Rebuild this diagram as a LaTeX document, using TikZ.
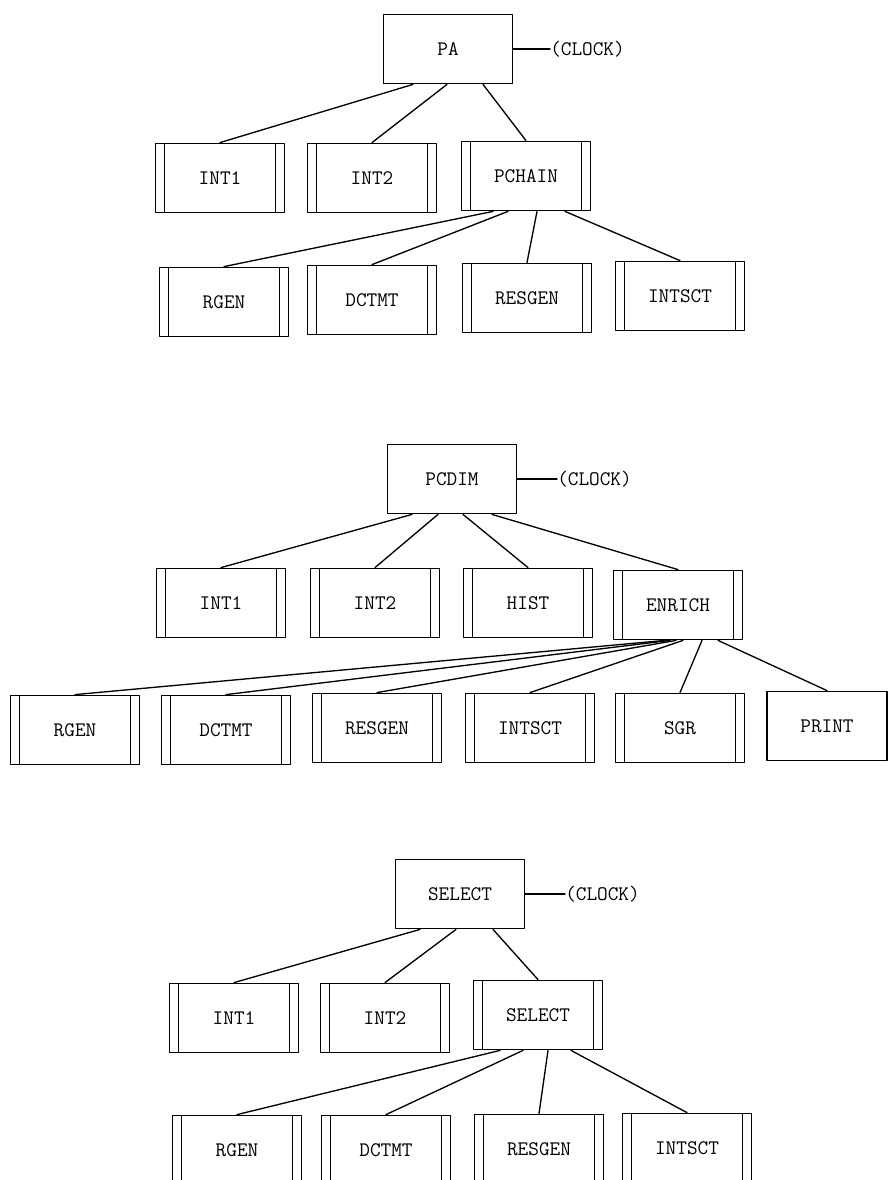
\documentclass[tikz,border=0pt]{standalone}
\usetikzlibrary{calc}
\begin{document}
\begin{tikzpicture}[x=0.75pt,y=-0.75pt,line cap=round,line join=round,
  font=\fontsize{15.5}{18}\selectfont\ttfamily,
  box/.style={draw,line width=1.1pt,minimum width=97pt,minimum height=52pt,inner sep=0pt},
  modbox/.style={box,path picture={
    \draw[line width=1pt]
      ([xshift=7pt]path picture bounding box.north west) -- ([xshift=7pt]path picture bounding box.south west)
      ([xshift=-7pt]path picture bounding box.north east) -- ([xshift=-7pt]path picture bounding box.south east);}},
  clock/.style={anchor=west,inner sep=0pt},
  wire/.style={line width=1pt}]
  \useasboundingbox (0,0) rectangle (888,1180);
  % first tree
  \node[box] (pa) at (448,49) {PA};
  \node[clock] (clka) at (550,49) {(CLOCK)};
  \draw[wire] (pa.east) -- (clka.west);
  \node[modbox] (int1a) at (220,178) {INT1};
  \node[modbox] (int2a) at (372,178) {INT2};
  \node[modbox] (pchain) at (526,176) {PCHAIN};
  \node[modbox] (rgena) at (224,302) {RGEN};
  \node[modbox] (dctmta) at (372,300) {DCTMT};
  \node[modbox] (resgena) at (527,298) {RESGEN};
  \node[modbox] (intscta) at (680,296) {INTSCT};
  \draw[wire] ($(pa.south)+(-35,0)$) -- (int1a.north);
  \draw[wire] ($(pa.south)+(-1,0)$) -- (int2a.north);
  \draw[wire] ($(pa.south)+(35,0)$) -- (pchain.north);
  \draw[wire] ($(pchain.south)+(-33,0)$) -- (rgena.north);
  \draw[wire] ($(pchain.south)+(-18,0)$) -- (dctmta.north);
  \draw[wire] ($(pchain.south)+(11,0)$) -- (resgena.north);
  \draw[wire] ($(pchain.south)+(39,0)$) -- (intscta.north);
  % second tree
  \node[box] (pcdim) at (452,479) {PCDIM};
  \node[clock] (clkb) at (557,479) {(CLOCK)};
  \draw[wire] (pcdim.east) -- (clkb.west);
  \node[modbox] (int1b) at (221,603) {INT1};
  \node[modbox] (int2b) at (375,603) {INT2};
  \node[modbox] (hist) at (528,603) {HIST};
  \node[modbox] (enrich) at (678,605) {ENRICH};
  \node[modbox] (rgenb) at (75,730) {RGEN};
  \node[modbox] (dctmtb) at (226,730) {DCTMT};
  \node[modbox] (resgenb) at (377,728) {RESGEN};
  \node[modbox] (intsctb) at (530,728) {INTSCT};
  \node[modbox] (sgr) at (680,728) {SGR};
  \node[box,minimum width=90pt] (print) at (827,726) {PRINT};
  \draw[wire] ($(pcdim.south)+(-40,0)$) -- (int1b.north);
  \draw[wire] ($(pcdim.south)+(-14,0)$) -- (int2b.north);
  \draw[wire] ($(pcdim.south)+(11,0)$) -- (hist.north);
  \draw[wire] ($(pcdim.south)+(40,0)$) -- (enrich.north);
  \draw[wire] ($(enrich.south)+(-13,0)$) -- (rgenb.north);
  \draw[wire] ($(enrich.south)+(-8,0)$) -- (dctmtb.north);
  \draw[wire] ($(enrich.south)+(-2,0)$) -- (resgenb.north);
  \draw[wire] ($(enrich.south)+(5,0)$) -- (intsctb.north);
  \draw[wire] ($(enrich.south)+(24,0)$) -- (sgr.north);
  \draw[wire] ($(enrich.south)+(40,0)$) -- (print.north);
  % third tree
  \node[box] (selecta) at (460,894) {SELECT};
  \node[clock] (clkc) at (565,894) {(CLOCK)};
  \draw[wire] (selecta.east) -- (clkc.west);
  \node[modbox] (int1c) at (234,1018) {INT1};
  \node[modbox] (int2c) at (385,1018) {INT2};
  \node[modbox] (selectb) at (538,1015) {SELECT};
  \node[modbox] (rgenc) at (237,1150) {RGEN};
  \node[modbox] (dctmtc) at (386,1150) {DCTMT};
  \node[modbox] (resgenc) at (539,1149) {RESGEN};
  \node[modbox] (intsctc) at (687,1148) {INTSCT};
  \draw[wire] ($(selecta.south)+(-40,0)$) -- (int1c.north);
  \draw[wire] ($(selecta.south)+(-4,0)$) -- (int2c.north);
  \draw[wire] ($(selecta.south)+(33,0)$) -- (selectb.north);
  \draw[wire] ($(selectb.south)+(-38,0)$) -- (rgenc.north);
  \draw[wire] ($(selectb.south)+(-15,0)$) -- (dctmtc.north);
  \draw[wire] ($(selectb.south)+(10,0)$) -- (resgenc.north);
  \draw[wire] ($(selectb.south)+(33,0)$) -- (intsctc.north);
\end{tikzpicture}
\end{document}
